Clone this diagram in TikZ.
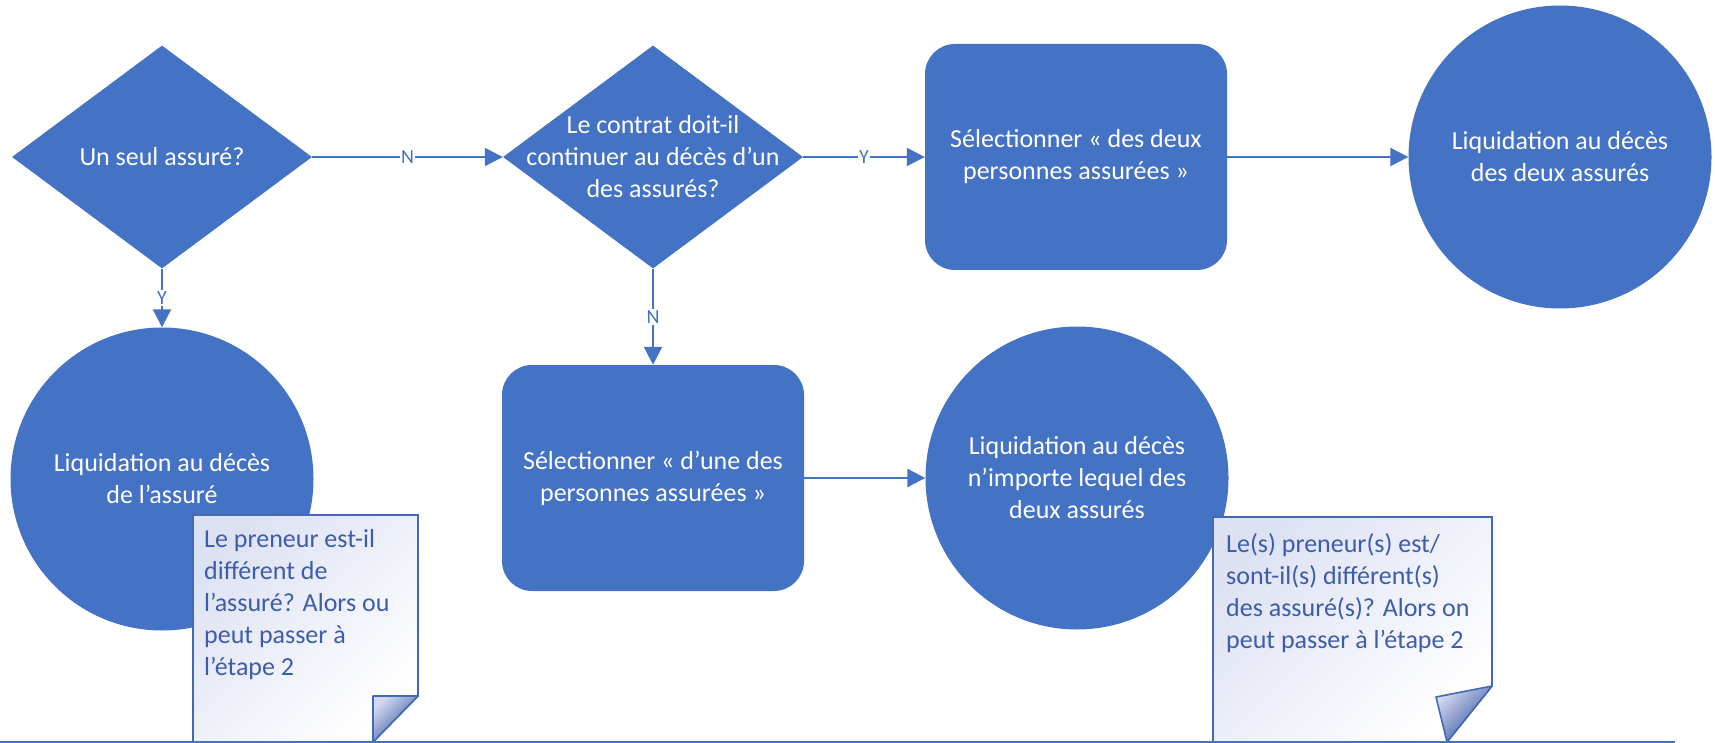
\documentclass[tikz,border=0pt]{standalone}
\usepackage{fontspec}
\setmainfont{Carlito}
\usetikzlibrary{shapes.geometric,arrows.meta}
\definecolor{fc}{HTML}{4472C4}
\definecolor{notetxt}{HTML}{3D5DAA}
\definecolor{noteedge}{HTML}{4169B8}
\definecolor{notetop}{HTML}{DDE2F3}
\definecolor{foldlight}{HTML}{D3D8EF}
\definecolor{folddark}{HTML}{2C4E9E}
\begin{document}
\begin{tikzpicture}[x=1pt,y=-1pt,
  base/.style={fill=fc, draw=none, text=white, font=\fontsize{26}{32}\selectfont, align=center, inner sep=0pt},
  decision/.style={base, diamond, minimum width=300pt, minimum height=223pt},
  process/.style={base, rectangle, rounded corners=30pt, minimum width=302pt, minimum height=226pt},
  terminal/.style={base, circle, minimum size=303pt},
  dtext/.style={text=white, font=\fontsize{26}{32}\selectfont, align=center},
  conn/.style={draw=fc, line width=2.2pt, -{Triangle[length=18pt,width=18pt]}},
  lbl/.style={fill=white, text=fc, font=\fontsize{20}{20}\selectfont, inner sep=1.5pt},
  notebody/.style={draw=noteedge, line width=1.6pt, top color=notetop, bottom color=white, shading angle=45},
  notefold/.style={draw=noteedge, line width=1.6pt, line join=round, top color=foldlight, bottom color=folddark, shading angle=45},
  notetext/.style={text=notetxt, font=\fontsize{26}{32}\selectfont, align=left, inner sep=0pt, anchor=north west}
]
\useasboundingbox (0,0) rectangle (1715,743);

% shapes
\node[decision, label={[dtext]center:Un seul assuré?}] (d1) at (162,157) {};
\node[decision, label={[dtext]center:{Le contrat doit-il\\continuer au décès d’un\\des assurés?}}] (d2) at (653,157) {};
\node[process] (r1) at (1076,157) {Sélectionner « des deux\\personnes assurées »};
\node[terminal] (c1) at (1560,157) {Liquidation au décès\\des deux assurés};
\node[terminal] (c2) at (162,479) {Liquidation au décès\\de l’assuré};
\node[process] (r2) at (653,478) {Sélectionner « d’une des\\personnes assurées »};
\node[terminal] (c3) at (1077,478) {Liquidation au décès\\n’importe lequel des\\deux assurés};

% connectors
\draw[conn] (d1.east) -- node[lbl]{N} (d2.west);
\draw[conn] (d1.south) -- node[lbl]{Y} (c2.north);
\draw[conn] (d2.east) -- node[lbl]{Y} (r1.west);
\draw[conn] (d2.south) -- node[lbl]{N} (r2.north);
\draw[conn] (r1.east) -- (c1.west);
\draw[conn] (r2.east) -- (c3.west);

% note 1
\path[notebody] (193,515) -- (418,515) -- (418,696) -- (373,742) -- (193,742) -- cycle;
\path[notefold] (373,696) -- (418,696) -- (373,742) -- cycle;
\node[notetext] (n1) at (204,529) {Le preneur est-il\\différent de\\l’assuré? Alors ou\\peut passer à\\l’étape 2};

% note 2
\path[notebody] (1213,517) -- (1492,517) -- (1492,686) -- (1447,742) -- (1213,742) -- cycle;
\path[notefold] (1436,697) -- (1492,686) -- (1447,742) -- cycle;
\node[notetext] (n2) at (1226,533) {Le(s) preneur(s) est/\\sont-il(s) différent(s)\\des assuré(s)? Alors on\\peut passer à l’étape 2};

% bottom rule
\draw[draw=fc, line width=2pt] (0,741.5) -- (1675,741.5);
\end{tikzpicture}
\end{document}
